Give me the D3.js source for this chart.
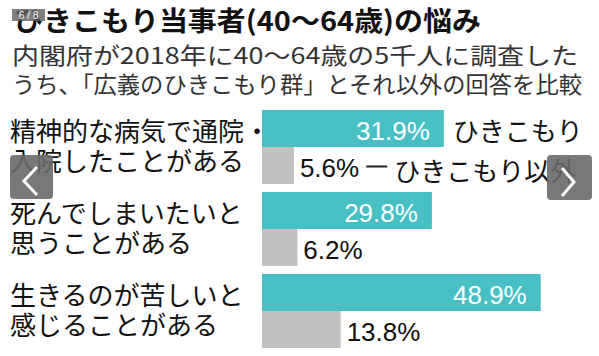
<!DOCTYPE html>
<html><head><meta charset="utf-8">
<script src="https://cdn.jsdelivr.net/npm/d3@7"></script>
<style>
html,body{margin:0;padding:0;background:#fff;}
svg{display:block;}
</style></head>
<body>
<svg id="chart" width="599" height="356"></svg>
<script>
const title = "ひきこもり当事者(40〜64歳)の悩み";
const subtitleLines = ["内閣府が2018年に40〜64歳の5千人に調査した", "うち、「広義のひきこもり群」とそれ以外の回答を比較"];
const categories = ["精神的な病気で通院・\n入院したことがある", "死んでしまいたいと\n思うことがある", "生きるのが苦しいと\n感じることがある"];
const series = ["ひきこもり", "ひきこもり以外"];
const hikikomori = [31.9, 29.8, 48.9];
const others = [5.6, 6.2, 13.8];
const colors = ["#48bfc3", "#c1c1c1"];

const svg = d3.select("#chart");
const jp = "'Noto Sans CJK JP','Noto Sans',sans-serif";
const num = "'Liberation Sans',Arial,sans-serif";

// Title
svg.append("text").attr("x", 14).attr("y", 31)
  .attr("font-family", jp).attr("font-weight", "bold").attr("font-size", 27)
  .attr("fill", "#111").attr("textLength", 467).attr("lengthAdjust", "spacingAndGlyphs")
  .text(title);
const subEnds = [578, 582];
subtitleLines.forEach((s, i) => {
  svg.append("text").attr("x", 12).attr("y", 64 + i * 29)
    .attr("font-family", jp).attr("font-size", 23).attr("fill", "#333")
    .attr("textLength", subEnds[i] - 12).attr("lengthAdjust", "spacingAndGlyphs")
    .text(s);
});

const x = d3.scaleLinear().domain([0, 50]).range([262, 547]);
const y = d3.scaleBand().domain(categories).range([110, 348]).paddingInner(8 / 82).paddingOuter(0);
const ys = d3.scaleBand().domain(series).range([0, y.bandwidth()]);

const rows = categories.map((c, i) => ({c, vals: [hikikomori[i], others[i]]}));

const g = svg.append("g");
rows.forEach((r, i) => {
  const lines = r.c.split("\n");
  lines.forEach((ln, k) => {
    g.append("text").attr("x", 10).attr("y", y(r.c) + 31 + k * 29.5)
      .attr("font-family", jp).attr("font-size", 26).attr("fill", "#111").text(ln);
  });
  r.vals.forEach((v, j) => {
    const top = y(r.c) + ys(series[j]);
    g.append("rect").attr("x", x(0)).attr("y", top)
      .attr("width", x(v) - x(0)).attr("height", ys.bandwidth()).attr("fill", colors[j]);
    const t = g.append("text").attr("font-family", num).attr("font-size", 26)
      .attr("y", top + ys.bandwidth() / 2 + 11.5).text(v.toFixed(1) + "%");
    if (j === 0) {
      t.attr("x", x(v) - 14).attr("text-anchor", "end").attr("fill", "#fff");
    } else {
      t.attr("x", x(v) + 6).attr("fill", "#111");
      if (i === 0) {
        const w = t.node().getComputedTextLength();
        const lx = x(v) + 6 + w + 7;
        g.append("line").attr("x1", lx).attr("x2", lx + 21)
          .attr("y1", top + ys.bandwidth() / 2 + 1).attr("y2", top + ys.bandwidth() / 2 + 1)
          .attr("stroke", "#222").attr("stroke-width", 2);
        g.append("text").attr("x", lx + 28).attr("y", top + ys.bandwidth() / 2 + 15)
          .attr("font-family", jp).attr("font-size", 26).attr("fill", "#111").text(series[1]);
      }
    }
    if (j === 0 && i === 0) {
      g.append("text").attr("x", x(v) + 9).attr("y", top + ys.bandwidth() / 2 + 12)
        .attr("font-family", jp).attr("font-size", 26).attr("fill", "#111").text(series[0]);
    }
  });
});

// Carousel overlay (from the screenshot)
const ov = svg.append("g");
ov.append("rect").attr("x", 12).attr("y", 9).attr("width", 33).attr("height", 12)
  .attr("fill", "rgba(95,95,95,0.8)");
ov.append("text").attr("x", 28.5).attr("y", 19).attr("text-anchor", "middle")
  .attr("font-family", num).attr("font-size", 10).attr("fill", "#fff").text("6 / 8");
ov.append("rect").attr("x", 10).attr("y", 155).attr("width", 43).attr("height", 44).attr("rx", 4)
  .attr("fill", "rgba(105,105,105,0.9)");
ov.append("path").attr("d", "M37,167 L24,181 L37,195").attr("fill", "none")
  .attr("stroke", "#fff").attr("stroke-width", 3);
ov.append("rect").attr("x", 547).attr("y", 155).attr("width", 45).attr("height", 45).attr("rx", 4)
  .attr("fill", "rgba(105,105,105,0.9)");
ov.append("path").attr("d", "M562,168 L574,182 L562,196").attr("fill", "none")
  .attr("stroke", "#fff").attr("stroke-width", 3);
</script>
</body></html>
